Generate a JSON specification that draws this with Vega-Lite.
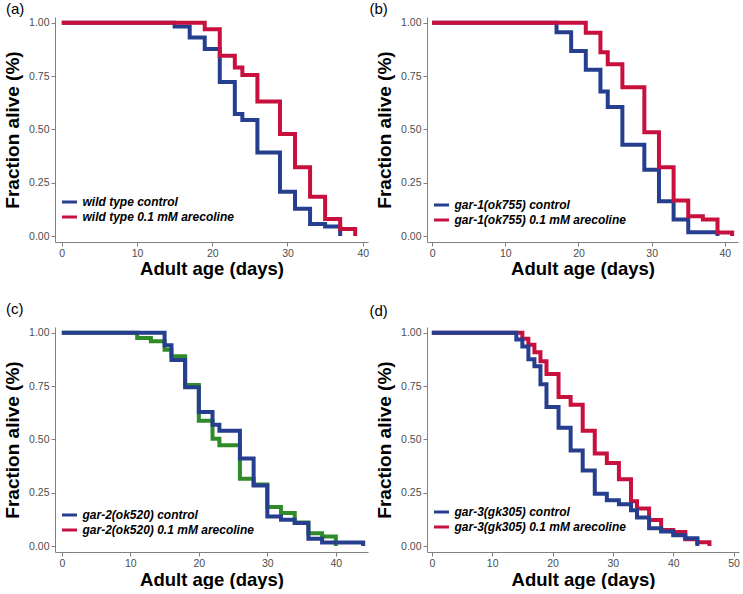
{
  "$schema": "https://vega.github.io/schema/vega-lite/v6.json",
  "padding": {"left": 3, "top": 1, "right": 0, "bottom": 0},
  "background": "white",
  "datasets": {
    "a": [
      {"day": 0, "surv": 1, "series": "wild type control"},
      {"day": 15, "surv": 0.983, "series": "wild type control"},
      {"day": 17, "surv": 0.931, "series": "wild type control"},
      {"day": 19, "surv": 0.877, "series": "wild type control"},
      {"day": 21, "surv": 0.722, "series": "wild type control"},
      {"day": 23, "surv": 0.572, "series": "wild type control"},
      {"day": 24, "surv": 0.544, "series": "wild type control"},
      {"day": 26, "surv": 0.392, "series": "wild type control"},
      {"day": 29, "surv": 0.208, "series": "wild type control"},
      {"day": 31, "surv": 0.128, "series": "wild type control"},
      {"day": 33, "surv": 0.056, "series": "wild type control"},
      {"day": 35, "surv": 0.045, "series": "wild type control"},
      {"day": 37, "surv": 0, "series": "wild type control"},
      {"day": 0, "surv": 1, "series": "wild type 0.1 mM arecoline"},
      {"day": 19, "surv": 0.97, "series": "wild type 0.1 mM arecoline"},
      {"day": 21, "surv": 0.845, "series": "wild type 0.1 mM arecoline"},
      {"day": 23, "surv": 0.79, "series": "wild type 0.1 mM arecoline"},
      {"day": 24, "surv": 0.755, "series": "wild type 0.1 mM arecoline"},
      {"day": 26, "surv": 0.631, "series": "wild type 0.1 mM arecoline"},
      {"day": 29, "surv": 0.478, "series": "wild type 0.1 mM arecoline"},
      {"day": 31, "surv": 0.322, "series": "wild type 0.1 mM arecoline"},
      {"day": 33, "surv": 0.184, "series": "wild type 0.1 mM arecoline"},
      {"day": 35, "surv": 0.08, "series": "wild type 0.1 mM arecoline"},
      {"day": 37, "surv": 0.033, "series": "wild type 0.1 mM arecoline"},
      {"day": 39, "surv": 0, "series": "wild type 0.1 mM arecoline"}
    ],
    "b": [
      {"day": 0, "surv": 1, "series": "gar-1(ok755) control"},
      {"day": 17, "surv": 0.956, "series": "gar-1(ok755) control"},
      {"day": 19, "surv": 0.867, "series": "gar-1(ok755) control"},
      {"day": 21, "surv": 0.78, "series": "gar-1(ok755) control"},
      {"day": 23, "surv": 0.678, "series": "gar-1(ok755) control"},
      {"day": 24, "surv": 0.605, "series": "gar-1(ok755) control"},
      {"day": 26, "surv": 0.428, "series": "gar-1(ok755) control"},
      {"day": 29, "surv": 0.311, "series": "gar-1(ok755) control"},
      {"day": 31, "surv": 0.163, "series": "gar-1(ok755) control"},
      {"day": 33, "surv": 0.077, "series": "gar-1(ok755) control"},
      {"day": 35, "surv": 0.018, "series": "gar-1(ok755) control"},
      {"day": 39, "surv": 0, "series": "gar-1(ok755) control"},
      {"day": 0, "surv": 1, "series": "gar-1(ok755) 0.1 mM arecoline"},
      {"day": 21, "surv": 0.953, "series": "gar-1(ok755) 0.1 mM arecoline"},
      {"day": 23, "surv": 0.862, "series": "gar-1(ok755) 0.1 mM arecoline"},
      {"day": 24, "surv": 0.805, "series": "gar-1(ok755) 0.1 mM arecoline"},
      {"day": 26, "surv": 0.698, "series": "gar-1(ok755) 0.1 mM arecoline"},
      {"day": 29, "surv": 0.487, "series": "gar-1(ok755) 0.1 mM arecoline"},
      {"day": 31, "surv": 0.322, "series": "gar-1(ok755) 0.1 mM arecoline"},
      {"day": 33, "surv": 0.167, "series": "gar-1(ok755) 0.1 mM arecoline"},
      {"day": 35, "surv": 0.093, "series": "gar-1(ok755) 0.1 mM arecoline"},
      {"day": 37, "surv": 0.077, "series": "gar-1(ok755) 0.1 mM arecoline"},
      {"day": 39, "surv": 0.016, "series": "gar-1(ok755) 0.1 mM arecoline"},
      {"day": 41, "surv": 0, "series": "gar-1(ok755) 0.1 mM arecoline"}
    ],
    "c": [
      {"day": 0, "surv": 1, "series": "gar-2(ok520) control"},
      {"day": 15, "surv": 0.942, "series": "gar-2(ok520) control"},
      {"day": 16, "surv": 0.872, "series": "gar-2(ok520) control"},
      {"day": 18, "surv": 0.745, "series": "gar-2(ok520) control"},
      {"day": 20, "surv": 0.628, "series": "gar-2(ok520) control"},
      {"day": 22, "surv": 0.569, "series": "gar-2(ok520) control"},
      {"day": 23, "surv": 0.541, "series": "gar-2(ok520) control"},
      {"day": 26, "surv": 0.41, "series": "gar-2(ok520) control"},
      {"day": 28, "surv": 0.284, "series": "gar-2(ok520) control"},
      {"day": 30, "surv": 0.139, "series": "gar-2(ok520) control"},
      {"day": 32, "surv": 0.123, "series": "gar-2(ok520) control"},
      {"day": 34, "surv": 0.108, "series": "gar-2(ok520) control"},
      {"day": 36, "surv": 0.034, "series": "gar-2(ok520) control"},
      {"day": 38, "surv": 0.016, "series": "gar-2(ok520) control"},
      {"day": 44, "surv": 0, "series": "gar-2(ok520) control"},
      {"day": 0, "surv": 1, "series": "gar-2(ok520) 0.1 mM arecoline"},
      {"day": 11, "surv": 0.975, "series": "gar-2(ok520) 0.1 mM arecoline"},
      {"day": 13, "surv": 0.96, "series": "gar-2(ok520) 0.1 mM arecoline"},
      {"day": 15, "surv": 0.92, "series": "gar-2(ok520) 0.1 mM arecoline"},
      {"day": 16, "surv": 0.89, "series": "gar-2(ok520) 0.1 mM arecoline"},
      {"day": 18, "surv": 0.755, "series": "gar-2(ok520) 0.1 mM arecoline"},
      {"day": 20, "surv": 0.587, "series": "gar-2(ok520) 0.1 mM arecoline"},
      {"day": 22, "surv": 0.503, "series": "gar-2(ok520) 0.1 mM arecoline"},
      {"day": 23, "surv": 0.472, "series": "gar-2(ok520) 0.1 mM arecoline"},
      {"day": 26, "surv": 0.316, "series": "gar-2(ok520) 0.1 mM arecoline"},
      {"day": 28, "surv": 0.288, "series": "gar-2(ok520) 0.1 mM arecoline"},
      {"day": 30, "surv": 0.183, "series": "gar-2(ok520) 0.1 mM arecoline"},
      {"day": 32, "surv": 0.155, "series": "gar-2(ok520) 0.1 mM arecoline"},
      {"day": 34, "surv": 0.11, "series": "gar-2(ok520) 0.1 mM arecoline"},
      {"day": 36, "surv": 0.06, "series": "gar-2(ok520) 0.1 mM arecoline"},
      {"day": 38, "surv": 0.045, "series": "gar-2(ok520) 0.1 mM arecoline"},
      {"day": 40, "surv": 0, "series": "gar-2(ok520) 0.1 mM arecoline"}
    ],
    "d": [
      {"day": 0, "surv": 1, "series": "gar-3(gk305) control"},
      {"day": 14, "surv": 0.968, "series": "gar-3(gk305) control"},
      {"day": 15, "surv": 0.935, "series": "gar-3(gk305) control"},
      {"day": 16, "surv": 0.876, "series": "gar-3(gk305) control"},
      {"day": 17, "surv": 0.843, "series": "gar-3(gk305) control"},
      {"day": 18, "surv": 0.758, "series": "gar-3(gk305) control"},
      {"day": 19, "surv": 0.652, "series": "gar-3(gk305) control"},
      {"day": 21, "surv": 0.555, "series": "gar-3(gk305) control"},
      {"day": 23, "surv": 0.448, "series": "gar-3(gk305) control"},
      {"day": 25, "surv": 0.354, "series": "gar-3(gk305) control"},
      {"day": 27, "surv": 0.245, "series": "gar-3(gk305) control"},
      {"day": 29, "surv": 0.215, "series": "gar-3(gk305) control"},
      {"day": 31, "surv": 0.196, "series": "gar-3(gk305) control"},
      {"day": 33, "surv": 0.168, "series": "gar-3(gk305) control"},
      {"day": 34, "surv": 0.134, "series": "gar-3(gk305) control"},
      {"day": 36, "surv": 0.083, "series": "gar-3(gk305) control"},
      {"day": 38, "surv": 0.068, "series": "gar-3(gk305) control"},
      {"day": 40, "surv": 0.05, "series": "gar-3(gk305) control"},
      {"day": 42, "surv": 0.036, "series": "gar-3(gk305) control"},
      {"day": 44, "surv": 0, "series": "gar-3(gk305) control"},
      {"day": 0, "surv": 1, "series": "gar-3(gk305) 0.1 mM arecoline"},
      {"day": 15, "surv": 0.972, "series": "gar-3(gk305) 0.1 mM arecoline"},
      {"day": 16, "surv": 0.944, "series": "gar-3(gk305) 0.1 mM arecoline"},
      {"day": 17, "surv": 0.909, "series": "gar-3(gk305) 0.1 mM arecoline"},
      {"day": 18, "surv": 0.866, "series": "gar-3(gk305) 0.1 mM arecoline"},
      {"day": 19, "surv": 0.807, "series": "gar-3(gk305) 0.1 mM arecoline"},
      {"day": 21, "surv": 0.699, "series": "gar-3(gk305) 0.1 mM arecoline"},
      {"day": 23, "surv": 0.663, "series": "gar-3(gk305) 0.1 mM arecoline"},
      {"day": 25, "surv": 0.54, "series": "gar-3(gk305) 0.1 mM arecoline"},
      {"day": 27, "surv": 0.434, "series": "gar-3(gk305) 0.1 mM arecoline"},
      {"day": 29, "surv": 0.389, "series": "gar-3(gk305) 0.1 mM arecoline"},
      {"day": 31, "surv": 0.313, "series": "gar-3(gk305) 0.1 mM arecoline"},
      {"day": 33, "surv": 0.21, "series": "gar-3(gk305) 0.1 mM arecoline"},
      {"day": 34, "surv": 0.176, "series": "gar-3(gk305) 0.1 mM arecoline"},
      {"day": 36, "surv": 0.122, "series": "gar-3(gk305) 0.1 mM arecoline"},
      {"day": 38, "surv": 0.075, "series": "gar-3(gk305) 0.1 mM arecoline"},
      {"day": 40, "surv": 0.066, "series": "gar-3(gk305) 0.1 mM arecoline"},
      {"day": 42, "surv": 0.032, "series": "gar-3(gk305) 0.1 mM arecoline"},
      {"day": 44, "surv": 0.018, "series": "gar-3(gk305) 0.1 mM arecoline"},
      {"day": 46, "surv": 0, "series": "gar-3(gk305) 0.1 mM arecoline"}
    ]
  },
  "columns": 2,
  "spacing": {"row": 85, "column": 59},
  "bounds": "flush",
  "resolve": {"scale": {"color": "independent", "x": "independent", "y": "independent"}, "legend": {"color": "independent"}},
  "concat": [
    {
      "width": 313, "height": 225,
      "title": {"text": "(a)", "dx": -49, "offset": -2},
      "data": {"name": "a"},
      "encoding": {
        "x": {"field": "day", "type": "quantitative", "scale": {"domain": [-0.9, 40.7], "nice": false, "zero": false}, "axis": {"values": [0, 10, 20, 30, 40], "title": "Adult age (days)", "titlePadding": 1}},
        "y": {"field": "surv", "type": "quantitative", "scale": {"domain": [-0.028, 1.027], "nice": false, "zero": false}, "axis": {"values": [0, 0.25, 0.5, 0.75, 1], "format": ".2f", "title": "Fraction alive (%)"}},
        "color": {"field": "series", "type": "nominal", "scale": {"domain": ["wild type control", "wild type 0.1 mM arecoline"], "range": ["#263e8e", "#c8103e"]}, "legend": {"title": null, "orient": "none", "legendX": 5.5, "legendY": 176}}
      },
      "layer": [
        {"transform": [{"filter": "datum.series === 'wild type control'"}], "mark": {"type": "line", "interpolate": "step-after", "strokeWidth": 4}},
        {"transform": [{"filter": "datum.series === 'wild type 0.1 mM arecoline'"}], "mark": {"type": "line", "interpolate": "step-after", "strokeWidth": 4}}
      ]
    },
    {
      "width": 311, "height": 225,
      "title": {"text": "(b)", "dx": -57.5, "offset": -2},
      "data": {"name": "b"},
      "encoding": {
        "x": {"field": "day", "type": "quantitative", "scale": {"domain": [-0.7, 41.8], "nice": false, "zero": false}, "axis": {"values": [0, 10, 20, 30, 40], "title": "Adult age (days)", "titlePadding": 1}},
        "y": {"field": "surv", "type": "quantitative", "scale": {"domain": [-0.028, 1.027], "nice": false, "zero": false}, "axis": {"values": [0, 0.25, 0.5, 0.75, 1], "format": ".2f", "title": "Fraction alive (%)"}},
        "color": {"field": "series", "type": "nominal", "scale": {"domain": ["gar-1(ok755) control", "gar-1(ok755) 0.1 mM arecoline"], "range": ["#263e8e", "#c8103e"]}, "legend": {"title": null, "orient": "none", "legendX": 5.5, "legendY": 179}}
      },
      "layer": [
        {"transform": [{"filter": "datum.series === 'gar-1(ok755) control'"}], "mark": {"type": "line", "interpolate": "step-after", "strokeWidth": 4}},
        {"transform": [{"filter": "datum.series === 'gar-1(ok755) 0.1 mM arecoline'"}], "mark": {"type": "line", "interpolate": "step-after", "strokeWidth": 4}}
      ]
    },
    {
      "width": 313, "height": 225,
      "title": {"text": "(c)", "dx": -49, "offset": 8},
      "data": {"name": "c"},
      "encoding": {
        "x": {"field": "day", "type": "quantitative", "scale": {"domain": [-1.0, 44.7], "nice": false, "zero": false}, "axis": {"values": [0, 10, 20, 30, 40], "title": "Adult age (days)", "titlePadding": 2}},
        "y": {"field": "surv", "type": "quantitative", "scale": {"domain": [-0.028, 1.027], "nice": false, "zero": false}, "axis": {"values": [0, 0.25, 0.5, 0.75, 1], "format": ".2f", "title": "Fraction alive (%)"}}
      },
      "layer": [
        {"transform": [{"filter": "datum.series === 'gar-2(ok520) 0.1 mM arecoline'"}], "mark": {"type": "line", "interpolate": "step-after", "strokeWidth": 4, "color": "#2f8a2a"}},
        {"transform": [{"filter": "datum.series === 'gar-2(ok520) control'"}], "mark": {"type": "line", "interpolate": "step-after", "strokeWidth": 4},
         "encoding": {"color": {"field": "series", "type": "nominal", "scale": {"domain": ["gar-2(ok520) control", "gar-2(ok520) 0.1 mM arecoline"], "range": ["#263e8e", "#c8103e"]}, "legend": {"title": null, "orient": "none", "legendX": 5.5, "legendY": 179}}}}
      ]
    },
    {
      "width": 312, "height": 225,
      "title": {"text": "(d)", "dx": -57.5, "offset": 6},
      "data": {"name": "d"},
      "encoding": {
        "x": {"field": "day", "type": "quantitative", "scale": {"domain": [-0.8, 50.9], "nice": false, "zero": false}, "axis": {"values": [0, 10, 20, 30, 40, 50], "title": "Adult age (days)", "titlePadding": 2}},
        "y": {"field": "surv", "type": "quantitative", "scale": {"domain": [-0.028, 1.027], "nice": false, "zero": false}, "axis": {"values": [0, 0.25, 0.5, 0.75, 1], "format": ".2f", "title": "Fraction alive (%)"}},
        "color": {"field": "series", "type": "nominal", "scale": {"domain": ["gar-3(gk305) control", "gar-3(gk305) 0.1 mM arecoline"], "range": ["#263e8e", "#c8103e"]}, "legend": {"title": null, "orient": "none", "legendX": 5.5, "legendY": 176}}
      },
      "layer": [
        {"transform": [{"filter": "datum.series === 'gar-3(gk305) 0.1 mM arecoline'"}], "mark": {"type": "line", "interpolate": "step-after", "strokeWidth": 4}},
        {"transform": [{"filter": "datum.series === 'gar-3(gk305) control'"}], "mark": {"type": "line", "interpolate": "step-after", "strokeWidth": 4}}
      ]
    }
  ],
  "config": {
    "view": {"stroke": null},
    "font": "Liberation Sans",
    "axis": {
      "grid": false, "domainColor": "#808080", "domainWidth": 1, "tickColor": "#808080", "tickSize": 4, "tickWidth": 1,
      "labelFont": "Liberation Sans", "labelFontSize": 10.5, "labelColor": "#4d4d4d", "labelPadding": 2, "labelFlush": false, "labelOverlap": false,
      "titleFont": "Liberation Sans", "titleFontSize": 19, "titleFontWeight": "bold", "titleColor": "#000000"
    },
    "axisX": {"titleFontSize": 18.5},
    "axisY": {"titlePadding": 6},
    "legend": {
      "symbolType": "stroke", "symbolSize": 225, "symbolStrokeWidth": 3,
      "labelFont": "Liberation Sans", "labelFontSize": 12, "labelFontWeight": "bold", "labelFontStyle": "italic", "labelColor": "#000000", "labelLimit": 0,
      "rowPadding": 0, "labelOffset": 4, "padding": 0
    },
    "title": {"font": "Liberation Sans", "fontSize": 15, "fontWeight": "normal", "anchor": "start", "frame": "group", "color": "#000000"}
  }
}
